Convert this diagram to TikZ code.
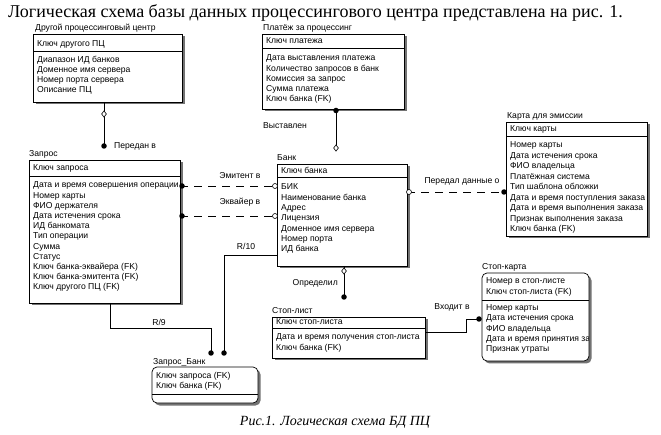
\documentclass[tikz,border=0pt]{standalone}
\usepackage{fontspec}
\setmainfont{Liberation Serif}
\newfontfamily\boxfont{Liberation Sans}
\usetikzlibrary{shapes.geometric,shadows}
\tikzset{
 ebox/.style={draw, line width=0.7pt, fill=white, anchor=north west, inner sep=0pt, outer sep=0pt,
   drop shadow={shadow xshift=2.5pt, shadow yshift=-2.5pt, fill=black!55, opacity=1}},
 rbox/.style={ebox, rounded corners=5pt},
 row/.style={font=\boxfont\fontsize{8.6}{10}\selectfont, anchor=base west, inner sep=0pt},
 rel/.style={line width=0.7pt},
 dsh/.style={rel, dash pattern=on 8pt off 6pt},
 dot/.style={circle, fill=black, inner sep=0pt, minimum size=5.5pt},
 hcirc/.style={circle, draw, line width=0.6pt, fill=white, inner sep=0pt, minimum size=5pt},
 hdiam/.style={diamond, draw, line width=0.6pt, fill=white, inner sep=0pt, minimum width=5pt, minimum height=6.5pt},
 lbl/.style={row, anchor=base},
}
\begin{document}
\begin{tikzpicture}[x=1pt,y=-1pt]
\fill[white] (0,0) rectangle (661,435);
\useasboundingbox (0,0) rectangle (661,435);

% title
\node[font=\fontsize{18}{20}\selectfont, anchor=base west, inner sep=0pt] (title) at (8,18)
  {Логическая схема базы данных процессингового центра представлена на рис. 1.};

% ---------- Другой процессинговый центр
\node[ebox, minimum width=149pt, minimum height=68pt] (dpc) at (33,34) {};
\draw[rel] (dpc.west |- 0,51) -- (dpc.east |- 0,51);
\node[row] (dpc-l) at (35,31) {Другой процессинговый центр};
\node[row] (dpc-k) at (37,47) {Ключ другого ПЦ};
\foreach \t [count=\i] in {Диапазон ИД банков,Доменное имя сервера,Номер порта сервера,Описание ПЦ}
  \node[row] (dpc-r\i) at (37,{63+(\i-1)*10}) {\t};

% ---------- Платёж за процессинг
\node[ebox, minimum width=142pt, minimum height=75pt] (plat) at (262,34) {};
\draw[rel] (plat.west |- 0,48) -- (plat.east |- 0,48);
\node[row] (plat-l) at (263,31) {Платёж за процессинг};
\node[row] (plat-k) at (266,44) {Ключ платежа};
\foreach \t [count=\i] in {Дата выставления платежа,Количество запросов в банк,Комиссия за запрос,Сумма платежа,Ключ банка (FK)}
  \node[row] (plat-r\i) at (266,{61+(\i-1)*10.2}) {\t};

% ---------- Карта для эмиссии
\node[ebox, minimum width=141pt, minimum height=114pt] (karta) at (506,122) {};
\draw[rel] (karta.west |- 0,136) -- (karta.east |- 0,136);
\node[row] (karta-l) at (507,119) {Карта для эмиссии};
\node[row] (karta-k) at (510,132) {Ключ карты};
\foreach \t [count=\i] in {Номер карты,Дата истечения срока,ФИО владельца,Платёжная система,Тип шаблона обложки,Дата и время поступления заказа,Дата и время выполнения заказа,Признак выполнения заказа,Ключ банка (FK)}
  \node[row] (karta-r\i) at (510,{148+(\i-1)*10.5}) {\t};

% ---------- Запрос
\node[ebox, minimum width=151pt, minimum height=143pt] (zapros) at (29,160) {};
\draw[rel] (zapros.west |- 0,176) -- (zapros.east |- 0,176);
\node[row] (zapros-l) at (29,157) {Запрос};
\node[row] (zapros-k) at (33,171) {Ключ запроса};
\foreach \t [count=\i] in {Дата и время совершения операции,Номер карты,ФИО держателя,Дата истечения срока,ИД банкомата,Тип операции,Сумма,Статус,Ключ банка-эквайера (FK),Ключ банка-эмитента (FK),Ключ другого ПЦ (FK)}
  \node[row] (zapros-r\i) at (33,{188+(\i-1)*10.2}) {\t};

% ---------- Банк
\node[ebox, minimum width=130pt, minimum height=102pt] (bank) at (277,164) {};
\draw[rel] (bank.west |- 0,177) -- (bank.east |- 0,177);
\node[row] (bank-l) at (277,161) {Банк};
\node[row] (bank-k) at (281,174) {Ключ банка};
\foreach \t [count=\i] in {БИК,Наименование банка,Адрес,Лицензия,Доменное имя сервера,Номер порта,ИД банка}
  \node[row] (bank-r\i) at (281,{190+(\i-1)*10.3}) {\t};

% ---------- Стоп-лист
\node[ebox, minimum width=153pt, minimum height=41pt] (slist) at (272,317) {};
\draw[rel] (slist.west |- 0,328) -- (slist.east |- 0,328);
\node[row] (slist-l) at (272,314) {Стоп-лист};
\node[row] (slist-k) at (276,325) {Ключ стоп-листа};
\node[row] (slist-r1) at (276,340) {Дата и время получения стоп-листа};
\node[row] (slist-r2) at (276,350.3) {Ключ банка (FK)};

% ---------- Стоп-карта
\node[rbox, minimum width=107pt, minimum height=88pt] (scard) at (482,273) {};
\draw[rel] (scard.west |- 0,300) -- (scard.east |- 0,300);
\node[row] (scard-l) at (482,270) {Стоп-карта};
\node[row] (scard-k1) at (486,284) {Номер в стоп-листе};
\node[row] (scard-k2) at (486,294.3) {Ключ стоп-листа (FK)};
\begin{scope}
\clip (483,300) rectangle (588,360);
\foreach \t [count=\i] in {Номер карты,Дата истечения срока,ФИО владельца,Дата и время принятия заявки,Признак утраты}
  \node[row] (scard-r\i) at (486,{310.5+(\i-1)*10.3}) {\t};
\end{scope}

% ---------- Запрос_Банк
\node[rbox, minimum width=106pt, minimum height=36pt] (zb) at (152,367) {};
\draw[rel] (zb.west |- 0,394) -- (zb.east |- 0,394);
\node[row] (zb-l) at (153,364) {Запрос\_Банк};
\node[row] (zb-k1) at (156,378) {Ключ запроса (FK)};
\node[row] (zb-k2) at (156,388.3) {Ключ банка (FK)};

% ---------- relationships
% Передан в
\coordinate (c-pd) at (104,146);
\draw[rel] (dpc.south -| c-pd) -- (c-pd);
\node[hdiam] (pd-d) at (104,114) {};
\node[dot] (pd-e) at (c-pd) {};
\node[row] (pd-l) at (114,149) {Передан в};

% Выставлен
\coordinate (c-vy) at (336,148);
\draw[rel] (plat.south -| c-vy) -- (c-vy);
\node[dot] (vy-e) at (336,110.5) {};
\node[hdiam] (vy-d) at (c-vy) {};
\node[row] (vy-l) at (263,129) {Выставлен};

% Эмитент в
\draw[dsh] (zapros.east |- 0,186) -- (bank.west |- 0,186);
\node[dot] (em-e) at (182,186) {};
\node[hcirc] (em-c) at (275,186) {};
\node[lbl] (em-l) at (240,179) {Эмитент в};

% Эквайер в
\draw[dsh] (zapros.east |- 0,216) -- (bank.west |- 0,216);
\node[dot] (ek-e) at (182,216) {};
\node[hcirc] (ek-c) at (275,216) {};
\node[lbl] (ek-l) at (240,205) {Эквайер в};

% Передал данные о
\draw[dsh] (bank.east |- 0,192) -- (karta.west |- 0,192);
\node[hcirc] (pdo-c) at (409,192) {};
\node[dot] (pdo-e) at (504,192) {};
\node[lbl] (pdo-l) at (462,184) {Передал данные о};

% R/10
\coordinate (c-r10) at (224,353);
\draw[rel] (bank.west |- 0,255) -| (c-r10);
\node[dot] (r10-e) at (c-r10) {};
\node[lbl] (r10-l) at (246,250) {R/10};

% R/9
\coordinate (c-r9) at (211,353);
\draw[rel] (zapros.south -| 110,0) |- (211,328) -- (c-r9);
\node[dot] (r9-e) at (c-r9) {};
\node[lbl] (r9-l) at (159,326) {R/9};

% Определил
\coordinate (c-op) at (344,297);
\draw[rel] (bank.south -| c-op) -- (c-op);
\node[hdiam] (op-d) at (344,271) {};
\node[dot] (op-e) at (c-op) {};
\node[row, anchor=base east] (op-l) at (338,286) {Определил};

% Входит в
\coordinate (c-vh) at (479,319);
\draw[rel] (slist.east |- 0,332) -| (466,319) -- (c-vh);
\node[dot] (vh-e) at (c-vh) {};
\node[lbl] (vh-l) at (452,310) {Входит в};

% caption
\node[font=\itshape\fontsize{14}{16}\selectfont, inner sep=0pt] (cap) at (335,422) {Рис.1. Логическая схема БД ПЦ};
\end{tikzpicture}
\end{document}
